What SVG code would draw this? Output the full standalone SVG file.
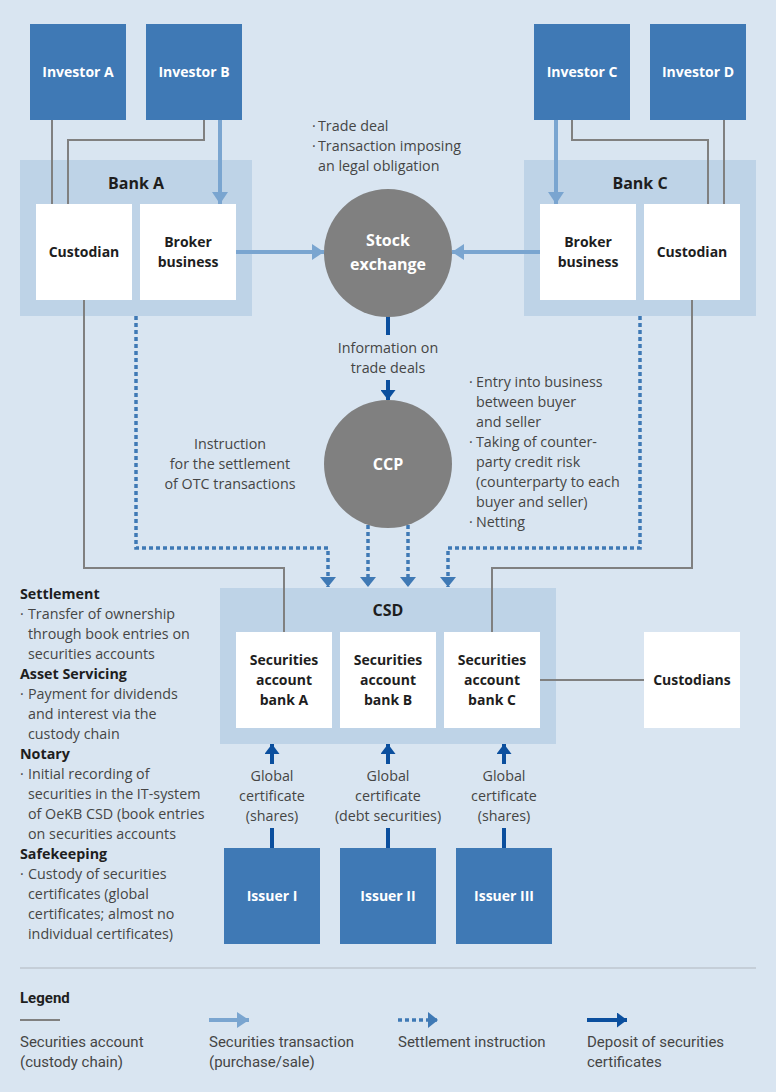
<svg xmlns="http://www.w3.org/2000/svg" width="776" height="1092" viewBox="0 0 776 1092">
<style>
.bg{fill:#d9e5f1}
.cont{fill:#bed3e7}
.wb{fill:#ffffff}
.inv{fill:#3f79b5}
.circ{fill:#808080}
text{font-family:"Open Sans","DejaVu Sans",sans-serif}
.lbl{font-size:14px;font-weight:700;fill:#1e1e1e;text-anchor:middle}
.wl{font-size:14px;font-weight:700;fill:#ffffff;text-anchor:middle}
.cl{font-size:16px;font-weight:700;fill:#ffffff;text-anchor:middle}
.ttl{font-size:16px;font-weight:700;fill:#1e1e1e;text-anchor:middle}
.note{font-size:14.3px;fill:#454545}
.notec{font-size:14.3px;fill:#454545;text-anchor:middle}
.hd{font-size:14.3px;font-weight:700;fill:#1e1e1e}
.lg{font-family:Roboto,"Liberation Sans",sans-serif;font-size:15px;fill:#454545}
.lgh{font-family:Roboto,"Liberation Sans",sans-serif;font-size:15px;font-weight:700;fill:#1e1e1e}
.gray{fill:none;stroke:#808080;stroke-width:2}
.lt{fill:none;stroke:#7aa5d0;stroke-width:4}
.dot{fill:none;stroke:#3f79b5;stroke-width:3.5;stroke-dasharray:4 3}
.dk{fill:none;stroke:#0b4f9e;stroke-width:4}
</style>
<defs>
<marker id="mlt" markerUnits="userSpaceOnUse" markerWidth="12" markerHeight="16" refX="12" refY="8" orient="auto"><path d="M0,0 L12,8 L0,16 z" fill="#7aa5d0"/></marker>
<marker id="mdot" markerUnits="userSpaceOnUse" markerWidth="10" markerHeight="16" refX="10" refY="8" orient="auto"><path d="M0,0 L10,8 L0,16 z" fill="#3f79b5"/></marker>
<marker id="mdk" markerUnits="userSpaceOnUse" markerWidth="10" markerHeight="15" refX="10" refY="7.5" orient="auto"><path d="M0,0 L10,7.5 L0,15 z" fill="#0b4f9e"/></marker>
</defs>
<rect class="bg" x="0" y="0" width="776" height="1092"/>

<g id="bankA"><rect class="cont" x="20" y="160" width="232" height="156"/><text class="ttl" x="136" y="189">Bank A</text></g>
<g id="bankC"><rect class="cont" x="524" y="160" width="232" height="156"/><text class="ttl" x="640" y="189">Bank C</text></g>
<g id="csd"><rect class="cont" x="220" y="588" width="336" height="156"/><text class="ttl" x="388" y="616">CSD</text></g>

<g id="connectors">
<path class="gray" d="M52,120 V204"/>
<path class="gray" d="M204,120 V140 H68 V204"/>
<path class="gray" d="M572,120 V140 H708 V204"/>
<path class="gray" d="M724,120 V204"/>
<path class="gray" d="M84,300 V568 H284 V632"/>
<path class="gray" d="M692,300 V568 H492 V632"/>
<path class="gray" d="M540,680 H644"/>
<path class="lt" d="M220,120 V204" marker-end="url(#mlt)"/>
<path class="lt" d="M556,120 V204" marker-end="url(#mlt)"/>
<path class="lt" d="M236,252 H324" marker-end="url(#mlt)"/>
<path class="lt" d="M540,252 H452" marker-end="url(#mlt)"/>
<path class="dk" d="M388,316 V335"/>
<path class="dk" d="M388,380 V400" marker-end="url(#mdk)"/>
<path class="dk" d="M272,764 V744" marker-end="url(#mdk)"/>
<path class="dk" d="M388,764 V744" marker-end="url(#mdk)"/>
<path class="dk" d="M504,764 V744" marker-end="url(#mdk)"/>
<path class="dk" d="M272,848 V828"/>
<path class="dk" d="M388,848 V828"/>
<path class="dk" d="M504,848 V828"/>
<path class="dot" d="M136,316 V548 H328 V587" marker-end="url(#mdot)"/>
<path class="dot" d="M368,525 V587" marker-end="url(#mdot)"/>
<path class="dot" d="M408,525 V587" marker-end="url(#mdot)"/>
<path class="dot" d="M640,316 V548 H448 V587" marker-end="url(#mdot)"/>
</g>

<g id="investorA"><rect class="inv" x="30" y="24" width="96" height="96"/><text class="wl" x="78" y="77">Investor A</text></g>
<g id="investorB"><rect class="inv" x="146" y="24" width="96" height="96"/><text class="wl" x="194" y="77">Investor B</text></g>
<g id="investorC"><rect class="inv" x="534" y="24" width="96" height="96"/><text class="wl" x="582" y="77">Investor C</text></g>
<g id="investorD"><rect class="inv" x="650" y="24" width="96" height="96"/><text class="wl" x="698" y="77">Investor D</text></g>

<g id="custodianA"><rect class="wb" x="36" y="204" width="96" height="96"/><text class="lbl" x="84" y="257">Custodian</text></g>
<g id="brokerA"><rect class="wb" x="140" y="204" width="96" height="96"/><text class="lbl" x="188" y="247">Broker</text><text class="lbl" x="188" y="267">business</text></g>
<g id="brokerC"><rect class="wb" x="540" y="204" width="96" height="96"/><text class="lbl" x="588" y="247">Broker</text><text class="lbl" x="588" y="267">business</text></g>
<g id="custodianC"><rect class="wb" x="644" y="204" width="96" height="96"/><text class="lbl" x="692" y="257">Custodian</text></g>

<g id="stockExchange"><circle class="circ" cx="388" cy="253" r="64"/><text class="cl" x="388" y="246">Stock</text><text class="cl" x="388" y="270">exchange</text></g>
<g id="ccp"><circle class="circ" cx="388" cy="464" r="64"/><text class="cl" x="388" y="470">CCP</text></g>

<g id="secA"><rect class="wb" x="236" y="632" width="96" height="96"/><text class="lbl" x="284" y="665">Securities</text><text class="lbl" x="284" y="685">account</text><text class="lbl" x="284" y="705">bank A</text></g>
<g id="secB"><rect class="wb" x="340" y="632" width="96" height="96"/><text class="lbl" x="388" y="665">Securities</text><text class="lbl" x="388" y="685">account</text><text class="lbl" x="388" y="705">bank B</text></g>
<g id="secC"><rect class="wb" x="444" y="632" width="96" height="96"/><text class="lbl" x="492" y="665">Securities</text><text class="lbl" x="492" y="685">account</text><text class="lbl" x="492" y="705">bank C</text></g>
<g id="custodians"><rect class="wb" x="644" y="632" width="96" height="96"/><text class="lbl" x="692" y="685">Custodians</text></g>

<g id="issuer1"><rect class="inv" x="224" y="848" width="96" height="96"/><text class="wl" x="272" y="901">Issuer I</text></g>
<g id="issuer2"><rect class="inv" x="340" y="848" width="96" height="96"/><text class="wl" x="388" y="901">Issuer II</text></g>
<g id="issuer3"><rect class="inv" x="456" y="848" width="96" height="96"/><text class="wl" x="504" y="901">Issuer III</text></g>

<g id="notes">
<text class="note" x="312" y="131">·</text><text class="note" x="318" y="131">Trade deal</text>
<text class="note" x="312" y="151">·</text><text class="note" x="318" y="151">Transaction imposing</text>
<text class="note" x="318" y="171">an legal obligation</text>
<text class="notec" x="388" y="353">Information on</text>
<text class="notec" x="388" y="373">trade deals</text>
<text class="notec" x="230" y="449">Instruction</text>
<text class="notec" x="230" y="469">for the settlement</text>
<text class="notec" x="230" y="489">of OTC transactions</text>
<text class="note" x="469" y="387">·</text><text class="note" x="476" y="387">Entry into business</text>
<text class="note" x="476" y="407">between buyer</text>
<text class="note" x="476" y="427">and seller</text>
<text class="note" x="469" y="447">·</text><text class="note" x="476" y="447">Taking of counter-</text>
<text class="note" x="476" y="467">party credit risk</text>
<text class="note" x="476" y="487">(counterparty to each</text>
<text class="note" x="476" y="507">buyer and seller)</text>
<text class="note" x="469" y="527">·</text><text class="note" x="476" y="527">Netting</text>
<text class="notec" x="272" y="781">Global</text>
<text class="notec" x="272" y="801">certificate</text>
<text class="notec" x="272" y="821">(shares)</text>
<text class="notec" x="388" y="781">Global</text>
<text class="notec" x="388" y="801">certificate</text>
<text class="notec" x="388" y="821">(debt securities)</text>
<text class="notec" x="504" y="781">Global</text>
<text class="notec" x="504" y="801">certificate</text>
<text class="notec" x="504" y="821">(shares)</text>
</g>

<g id="functions">
<text class="hd" x="20" y="599">Settlement</text>
<text class="note" x="20" y="619">·</text><text class="note" x="28" y="619">Transfer of ownership</text>
<text class="note" x="28" y="639">through book entries on</text>
<text class="note" x="28" y="659">securities accounts</text>
<text class="hd" x="20" y="679">Asset Servicing</text>
<text class="note" x="20" y="699">·</text><text class="note" x="28" y="699">Payment for dividends</text>
<text class="note" x="28" y="719">and interest via the</text>
<text class="note" x="28" y="739">custody chain</text>
<text class="hd" x="20" y="759">Notary</text>
<text class="note" x="20" y="779">·</text><text class="note" x="28" y="779">Initial recording of</text>
<text class="note" x="28" y="799">securities in the IT-system</text>
<text class="note" x="28" y="819">of OeKB CSD (book entries</text>
<text class="note" x="28" y="839">on securities accounts</text>
<text class="hd" x="20" y="859">Safekeeping</text>
<text class="note" x="20" y="879">·</text><text class="note" x="28" y="879">Custody of securities</text>
<text class="note" x="28" y="899">certificates (global</text>
<text class="note" x="28" y="919">certificates; almost no</text>
<text class="note" x="28" y="939">individual certificates)</text>
</g>

<g id="legend">
<path d="M20,968 H756" stroke="#c5ced8" stroke-width="2" fill="none"/>
<text class="lgh" x="20" y="1003">Legend</text>
<path class="gray" d="M20,1020 H60"/>
<path class="lt" d="M209,1020 H249" marker-end="url(#mlt)"/>
<path class="dot" d="M398,1020 H438" marker-end="url(#mdot)"/>
<path class="dk" d="M587,1020 H627" marker-end="url(#mdk)"/>
<text class="lg" x="20" y="1047">Securities account</text>
<text class="lg" x="20" y="1067">(custody chain)</text>
<text class="lg" x="209" y="1047">Securities transaction</text>
<text class="lg" x="209" y="1067">(purchase/sale)</text>
<text class="lg" x="398" y="1047">Settlement instruction</text>
<text class="lg" x="587" y="1047">Deposit of securities</text>
<text class="lg" x="587" y="1067">certificates</text>
</g>
</svg>
